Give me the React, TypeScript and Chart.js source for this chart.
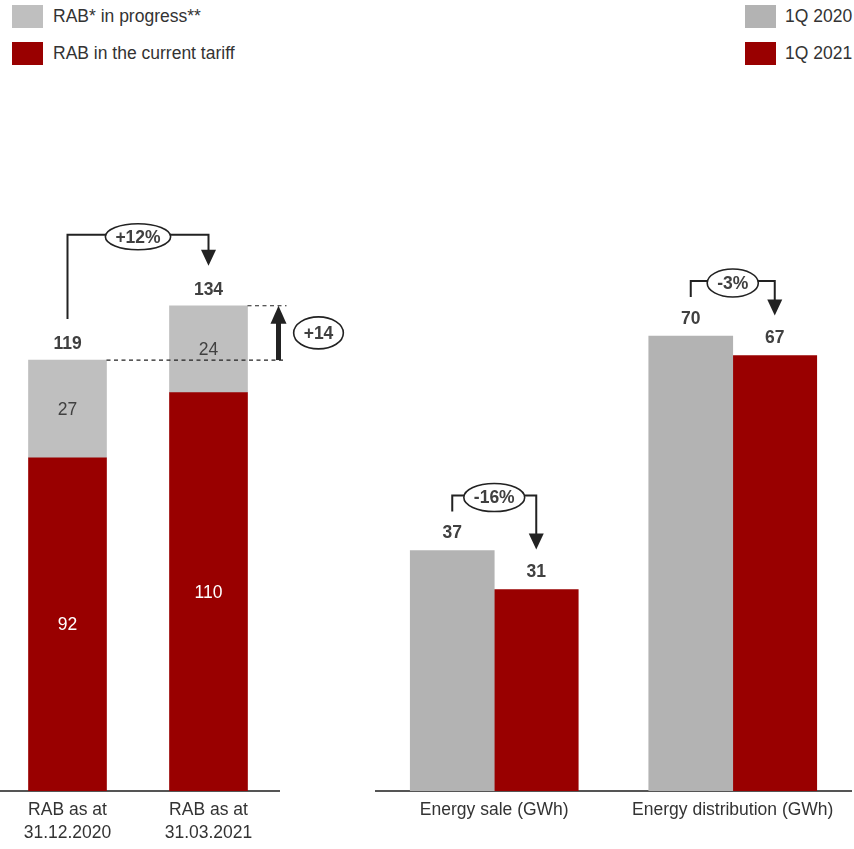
import { useEffect, useRef } from "react";
import { Chart, registerables } from "chart.js";

Chart.register(...registerables);

const FONT = "'Liberation Sans', Arial, sans-serif";
const TEXT = "#404040";
const INK = "#222222";
const RED = "#990000";
const GREY_RAB = "#bfbfbf";
const GREY_Q = "#b3b3b3";

// RAB (regulatory asset base), stacked
const rabLabels = [
  ["RAB as at", "31.12.2020"],
  ["RAB as at", "31.03.2021"],
];
const rabCurrentTariff = [92, 110];
const rabInProgress = [27, 24];
const rabChangePct = "+12%";
const rabChangeAbs = "+14";

// Energy volumes, grouped by quarter
const energyLabels = ["Energy sale (GWh)", "Energy distribution (GWh)"];
const energy1Q2020 = [37, 70];
const energy1Q2021 = [31, 67];
const energyChangePct = ["-16%", "-3%"];

const legendRab = [
  { label: "RAB* in progress**", color: GREY_RAB },
  { label: "RAB in the current tariff", color: RED },
];
const legendEnergy = [
  { label: "1Q 2020", color: GREY_Q },
  { label: "1Q 2021", color: RED },
];

function arrowHeadDown(ctx: CanvasRenderingContext2D, x: number, tipY: number, w: number, h: number) {
  ctx.beginPath();
  ctx.moveTo(x - w / 2, tipY - h);
  ctx.lineTo(x + w / 2, tipY - h);
  ctx.lineTo(x, tipY);
  ctx.closePath();
  ctx.fill();
}

function ellipseLabel(ctx: CanvasRenderingContext2D, cx: number, cy: number, text: string, ry: number, minRx = 0) {
  ctx.save();
  ctx.font = `bold 17.5px ${FONT}`;
  const rx = Math.max(minRx, ctx.measureText(text).width / 2 + 10);
  ctx.beginPath();
  ctx.ellipse(cx, cy, rx, ry, 0, 0, Math.PI * 2);
  ctx.fillStyle = "#ffffff";
  ctx.fill();
  ctx.lineWidth = 1.6;
  ctx.strokeStyle = INK;
  ctx.stroke();
  ctx.fillStyle = TEXT;
  ctx.textAlign = "center";
  ctx.textBaseline = "middle";
  ctx.fillText(text, cx, cy + 1);
  ctx.restore();
}

// Bracket with an arrow from one bar's label to another's, with a ringed caption
function bracket(
  ctx: CanvasRenderingContext2D,
  xa: number,
  ya: number,
  xb: number,
  yb: number,
  yTop: number,
  text: string,
  ry: number
) {
  ctx.save();
  ctx.strokeStyle = INK;
  ctx.fillStyle = INK;
  ctx.lineWidth = 2;
  ctx.beginPath();
  ctx.moveTo(xa, ya);
  ctx.lineTo(xa, yTop);
  ctx.lineTo(xb, yTop);
  ctx.lineTo(xb, yb - 14);
  ctx.stroke();
  arrowHeadDown(ctx, xb, yb, 15, 16);
  ctx.restore();
  ellipseLabel(ctx, (xa + xb) / 2, yTop + 2, text, ry);
}

const rabPlugin = {
  id: "rabAnnotations",
  afterDatasetsDraw(chart: any) {
    const { ctx } = chart;
    const yScale = chart.scales.y;
    const tariff = chart.getDatasetMeta(0).data;
    const progress = chart.getDatasetMeta(1).data;
    const totals = rabCurrentTariff.map((v, i) => v + rabInProgress[i]);
    const topA = yScale.getPixelForValue(totals[0]);
    const topB = yScale.getPixelForValue(totals[1]);
    const halfW = tariff[0].width / 2;
    const xEnd = progress[1].x + halfW + 39;

    // dashed guides at the two totals
    ctx.save();
    ctx.strokeStyle = INK;
    ctx.lineWidth = 1.2;
    ctx.setLineDash([4, 3.5]);
    ctx.beginPath();
    ctx.moveTo(progress[0].x + halfW, topA);
    ctx.lineTo(xEnd, topA);
    ctx.moveTo(progress[1].x + halfW, topB);
    ctx.lineTo(xEnd, topB);
    ctx.stroke();
    ctx.restore();

    // segment values
    ctx.save();
    ctx.font = `17.5px ${FONT}`;
    ctx.textAlign = "center";
    ctx.textBaseline = "middle";
    tariff.forEach((bar: any, i: number) => {
      ctx.fillStyle = "#ffffff";
      ctx.fillText(String(rabCurrentTariff[i]), bar.x, (bar.y + bar.base) / 2 + 1);
    });
    progress.forEach((bar: any, i: number) => {
      ctx.fillStyle = TEXT;
      ctx.fillText(String(rabInProgress[i]), bar.x, (bar.y + bar.base) / 2 + 1);
    });
    // totals
    ctx.font = `bold 17.5px ${FONT}`;
    ctx.fillStyle = TEXT;
    progress.forEach((bar: any, i: number) => {
      ctx.fillText(String(totals[i]), bar.x, yScale.getPixelForValue(totals[i]) - 16);
    });
    ctx.restore();

    // thick upward arrow between the totals
    const ax = xEnd - 8;
    ctx.save();
    ctx.fillStyle = INK;
    ctx.fillRect(ax - 2.5, topB + 16, 5, topA - topB - 16);
    ctx.beginPath();
    ctx.moveTo(ax - 8, topB + 18);
    ctx.lineTo(ax + 8, topB + 18);
    ctx.lineTo(ax, topB);
    ctx.closePath();
    ctx.fill();
    ctx.restore();
    ellipseLabel(ctx, xEnd + 32, (topA + topB) / 2, rabChangeAbs, 16, 21);

    bracket(ctx, progress[0].x, topA - 41, progress[1].x, topB - 40, topB - 71, rabChangePct, 13);
  },
};

const energyPlugin = {
  id: "energyAnnotations",
  afterDatasetsDraw(chart: any) {
    const { ctx } = chart;
    const yScale = chart.scales.y;
    const a = chart.getDatasetMeta(0).data;
    const b = chart.getDatasetMeta(1).data;
    ctx.save();
    ctx.font = `bold 17.5px ${FONT}`;
    ctx.fillStyle = TEXT;
    ctx.textAlign = "center";
    ctx.textBaseline = "middle";
    a.forEach((bar: any, i: number) => ctx.fillText(String(energy1Q2020[i]), bar.x, bar.y - 17));
    b.forEach((bar: any, i: number) => ctx.fillText(String(energy1Q2021[i]), bar.x, bar.y - 17));
    ctx.restore();
    energyChangePct.forEach((txt, i) => {
      const topA = yScale.getPixelForValue(energy1Q2020[i]);
      const topB = yScale.getPixelForValue(energy1Q2021[i]);
      const yTop = Math.min(topA, topB) - 55;
      bracket(ctx, a[i].x, topA - 39, b[i].x, topB - 40, yTop, txt, 14);
    });
  },
};

function xAxis(padding: number) {
  return {
    grid: { display: false, drawTicks: false },
    border: { display: true, color: "#555555", width: 2 },
    ticks: {
      color: "#333333",
      padding,
      font: { family: FONT, size: 17.5, lineHeight: 1.31 },
    },
    afterFit(axis: any) {
      axis.height = 58;
    },
  };
}

function Legend({ items, left, textLeft }: { items: { label: string; color: string }[]; left: number; textLeft: number }) {
  return (
    <>
      {items.map((it, i) => (
        <div key={it.label}>
          <div
            style={{
              position: "absolute",
              left,
              top: 5 + i * 37,
              width: 31,
              height: 23,
              background: it.color,
            }}
          />
          <div
            style={{
              position: "absolute",
              left: textLeft,
              top: 5 + i * 37,
              height: 23,
              lineHeight: "23px",
              fontFamily: FONT,
              fontSize: 17.5,
              color: "#333333",
              whiteSpace: "nowrap",
            }}
          >
            {it.label}
          </div>
        </div>
      ))}
    </>
  );
}

export default function App() {
  const rabRef = useRef<HTMLCanvasElement>(null);
  const energyRef = useRef<HTMLCanvasElement>(null);

  useEffect(() => {
    const rabChart = new Chart(rabRef.current!, {
      type: "bar",
      data: {
        labels: rabLabels,
        datasets: [
          { label: "RAB in the current tariff", data: rabCurrentTariff, backgroundColor: RED, barThickness: 78 },
          { label: "RAB* in progress**", data: rabInProgress, backgroundColor: GREY_RAB, barThickness: 78 },
        ],
      },
      options: {
        animation: false,
        responsive: false,
        maintainAspectRatio: false,
        layout: { padding: { top: 284, right: 70, left: 0, bottom: 0 } },
        plugins: { legend: { display: false }, tooltip: { enabled: false } },
        scales: {
          x: { stacked: true, ...xAxis(7.5) },
          y: { stacked: true, display: false, min: 0, max: 140 },
        },
      },
      plugins: [rabPlugin],
    });

    const energyChart = new Chart(energyRef.current!, {
      type: "bar",
      data: {
        labels: energyLabels,
        datasets: [
          { label: "1Q 2020", data: energy1Q2020, backgroundColor: GREY_Q, barThickness: 84 },
          { label: "1Q 2021", data: energy1Q2021, backgroundColor: RED, barThickness: 84 },
        ],
      },
      options: {
        animation: false,
        responsive: false,
        maintainAspectRatio: false,
        layout: { padding: { top: 271, right: 0, left: 0, bottom: 0 } },
        plugins: { legend: { display: false }, tooltip: { enabled: false } },
        scales: {
          x: xAxis(7.5),
          y: { display: false, min: 0, max: 80 },
        },
      },
      plugins: [energyPlugin],
    });

    return () => {
      rabChart.destroy();
      energyChart.destroy();
    };
  }, []);

  return (
    <div style={{ position: "absolute", left: 0, top: 0, width: 854, height: 849, background: "#ffffff", overflow: "hidden" }}>
      <Legend items={legendRab} left={12} textLeft={53} />
      <Legend items={legendEnergy} left={745} textLeft={785} />
      <canvas ref={rabRef} width={352} height={849} style={{ position: "absolute", left: -3, top: 0 }} />
      <canvas ref={energyRef} width={477} height={849} style={{ position: "absolute", left: 375, top: 0 }} />
    </div>
  );
}
